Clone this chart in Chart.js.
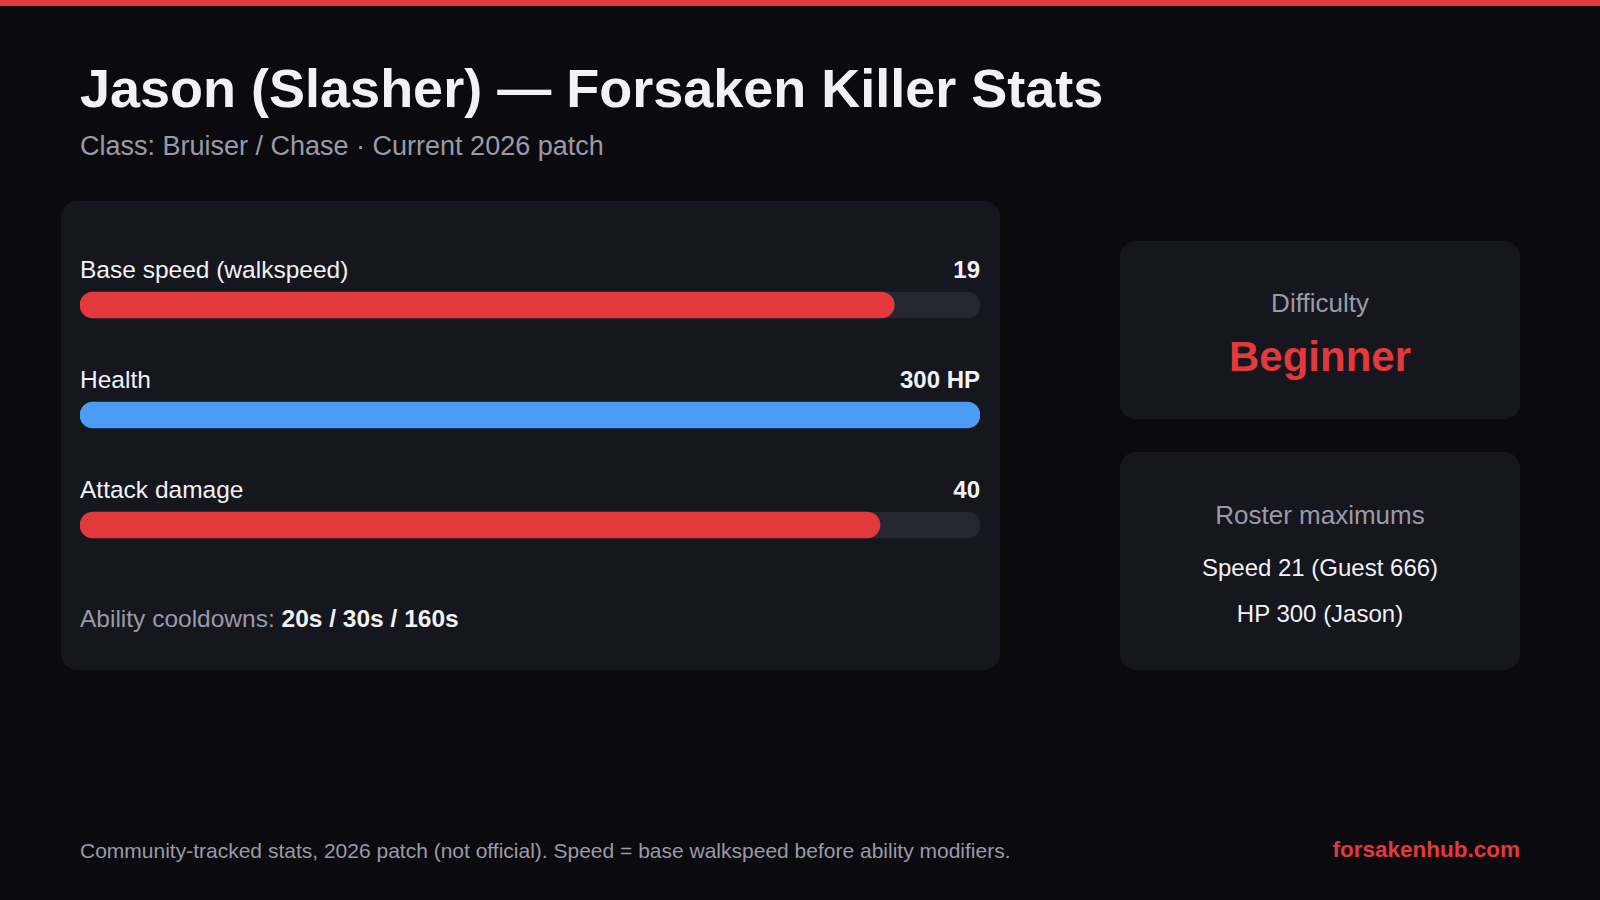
<!DOCTYPE html>
<html><head><meta charset="utf-8">
<script src="https://cdn.jsdelivr.net/npm/chart.js@4"></script>
<style>
body{margin:0;width:1600px;height:900px;background:#0b0b0f;font-family:"Liberation Sans",Arial,sans-serif;color:#f2f2f5;position:relative;overflow:hidden}
.top{position:absolute;left:0;top:0;width:1600px;height:6px;background:#e23a3c}
.abs{position:absolute;white-space:nowrap}
.card{position:absolute;background:#16161e;border-radius:16px}
.lbl{font-size:24.5px;color:#f2f2f5}
.val{font-size:24px;font-weight:bold;text-align:right;right:620px}
</style></head><body>
<div class="top"></div>
<div class="abs" style="left:80px;top:57px;font-size:54px;font-weight:bold">Jason (Slasher) — Forsaken Killer Stats</div>
<div class="abs" style="left:80px;top:131px;font-size:27px;color:#9a9aa8">Class: Bruiser / Chase · Current 2026 patch</div>
<div class="card" style="left:61px;top:201px;width:939px;height:469px"></div>
<div id="labels"></div>
<div style="position:absolute;left:80px;top:250px;width:900px;height:330px"><canvas id="c"></canvas></div>
<div class="abs" style="left:80px;top:605px;font-size:24.5px;color:#9a9aa8">Ability cooldowns: <b style="color:#f2f2f5">20s / 30s / 160s</b></div>
<div class="card" style="left:1120px;top:241px;width:400px;height:178px"></div>
<div class="abs" style="left:1120px;width:400px;text-align:center;top:288px;font-size:26px;color:#9a9aa8">Difficulty</div>
<div class="abs" style="left:1120px;width:400px;text-align:center;top:333px;font-size:42px;font-weight:bold;color:#e23a3c">Beginner</div>
<div class="card" style="left:1120px;top:452px;width:400px;height:218px"></div>
<div class="abs" style="left:1120px;width:400px;text-align:center;top:500px;font-size:26px;color:#9a9aa8">Roster maximums</div>
<div class="abs" style="left:1120px;width:400px;text-align:center;top:554px;font-size:24px">Speed 21 (Guest 666)</div>
<div class="abs" style="left:1120px;width:400px;text-align:center;top:600px;font-size:24px">HP 300 (Jason)</div>
<div class="abs" style="left:80px;top:839px;font-size:21px;color:#9a9aa8">Community-tracked stats, 2026 patch (not official). Speed = base walkspeed before ability modifiers.</div>
<div class="abs" style="right:80px;top:837px;font-size:22.5px;font-weight:bold;color:#e23a3c">forsakenhub.com</div>
<script>
const categories=["Base speed (walkspeed)","Health","Attack damage"];
const valueLabels=["19","300 HP","40"];
const values=[19,300,40];
const maxima=[21,300,45];
const colors=["#e23a3c","#4a9cf5","#e23a3c"];
const L=document.getElementById('labels');
categories.forEach((c,i)=>{
 const y=249+55+110*i-34-14;
 L.insertAdjacentHTML('beforeend',`<div class="abs lbl" style="left:80px;top:${y}px">${c}</div><div class="abs val" style="top:${y}px">${valueLabels[i]}</div>`);
});
const pct=values.map((v,i)=>v/maxima[i]*100);
new Chart(document.getElementById('c'),{type:'bar',
 data:{labels:categories,datasets:[
  {data:pct,backgroundColor:colors,barThickness:26,borderRadius:13,borderSkipped:false,grouped:false,order:0},
  {data:categories.map(()=>100),backgroundColor:'#262630',barThickness:26,borderRadius:13,borderSkipped:false,grouped:false,order:1}
 ]},
 options:{indexAxis:'y',responsive:true,maintainAspectRatio:false,animation:false,
  layout:{padding:0},
  plugins:{legend:{display:false},tooltip:{enabled:false}},
  scales:{x:{display:false,min:0,max:100},y:{display:false}}}
});
</script>
</body></html>
